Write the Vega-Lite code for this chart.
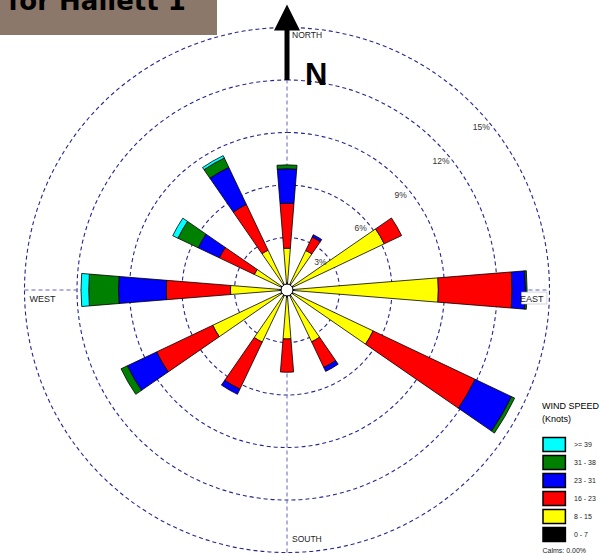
{
  "$schema": "https://vega.github.io/schema/vega-lite/v6.json",
  "width": 525,
  "height": 525,
  "autosize": {"type": "none"},
  "padding": {"left": 24.5, "top": 27.5, "right": 49.5, "bottom": 1.5},
  "background": "white",
  "config": {"view": {"stroke": null}, "font": "Liberation Sans"},
  "datasets": {
    "rose": [
      {"dir": 0, "kt": 0, "speed": "0 - 7", "pct": 0.4},
      {"dir": 0, "kt": 8, "speed": "8 - 15", "pct": 1.99},
      {"dir": 0, "kt": 16, "speed": "16 - 23", "pct": 2.57},
      {"dir": 0, "kt": 23, "speed": "23 - 31", "pct": 1.97},
      {"dir": 0, "kt": 31, "speed": "31 - 38", "pct": 0.22},
      {"dir": 30, "kt": 0, "speed": "0 - 7", "pct": 0.4},
      {"dir": 30, "kt": 8, "speed": "8 - 15", "pct": 2.1},
      {"dir": 30, "kt": 16, "speed": "16 - 23", "pct": 0.85},
      {"dir": 30, "kt": 23, "speed": "23 - 31", "pct": 0.15},
      {"dir": 60, "kt": 0, "speed": "0 - 7", "pct": 0.4},
      {"dir": 60, "kt": 8, "speed": "8 - 15", "pct": 5.75},
      {"dir": 60, "kt": 16, "speed": "16 - 23", "pct": 1.1},
      {"dir": 90, "kt": 0, "speed": "0 - 7", "pct": 0.4},
      {"dir": 90, "kt": 8, "speed": "8 - 15", "pct": 8.25},
      {"dir": 90, "kt": 16, "speed": "16 - 23", "pct": 4.21},
      {"dir": 90, "kt": 23, "speed": "23 - 31", "pct": 0.77},
      {"dir": 90, "kt": 31, "speed": "31 - 38", "pct": 0.09},
      {"dir": 120, "kt": 0, "speed": "0 - 7", "pct": 0.4},
      {"dir": 120, "kt": 8, "speed": "8 - 15", "pct": 5.05},
      {"dir": 120, "kt": 16, "speed": "16 - 23", "pct": 6.45},
      {"dir": 120, "kt": 23, "speed": "23 - 31", "pct": 2.3},
      {"dir": 120, "kt": 31, "speed": "31 - 38", "pct": 0.2},
      {"dir": 150, "kt": 0, "speed": "0 - 7", "pct": 0.4},
      {"dir": 150, "kt": 8, "speed": "8 - 15", "pct": 2.88},
      {"dir": 150, "kt": 16, "speed": "16 - 23", "pct": 1.62},
      {"dir": 150, "kt": 23, "speed": "23 - 31", "pct": 0.25},
      {"dir": 180, "kt": 0, "speed": "0 - 7", "pct": 0.4},
      {"dir": 180, "kt": 8, "speed": "8 - 15", "pct": 2.4},
      {"dir": 180, "kt": 16, "speed": "16 - 23", "pct": 1.9},
      {"dir": 210, "kt": 0, "speed": "0 - 7", "pct": 0.4},
      {"dir": 210, "kt": 8, "speed": "8 - 15", "pct": 2.9},
      {"dir": 210, "kt": 16, "speed": "16 - 23", "pct": 2.97},
      {"dir": 210, "kt": 23, "speed": "23 - 31", "pct": 0.33},
      {"dir": 240, "kt": 0, "speed": "0 - 7", "pct": 0.4},
      {"dir": 240, "kt": 8, "speed": "8 - 15", "pct": 4.3},
      {"dir": 240, "kt": 16, "speed": "16 - 23", "pct": 3.55},
      {"dir": 240, "kt": 23, "speed": "23 - 31", "pct": 1.85},
      {"dir": 240, "kt": 31, "speed": "31 - 38", "pct": 0.4},
      {"dir": 270, "kt": 0, "speed": "0 - 7", "pct": 0.4},
      {"dir": 270, "kt": 8, "speed": "8 - 15", "pct": 2.83},
      {"dir": 270, "kt": 16, "speed": "16 - 23", "pct": 3.67},
      {"dir": 270, "kt": 23, "speed": "23 - 31", "pct": 2.73},
      {"dir": 270, "kt": 31, "speed": "31 - 38", "pct": 1.7},
      {"dir": 270, "kt": 39, "speed": ">= 39", "pct": 0.44},
      {"dir": 300, "kt": 0, "speed": "0 - 7", "pct": 0.4},
      {"dir": 300, "kt": 8, "speed": "8 - 15", "pct": 1.67},
      {"dir": 300, "kt": 16, "speed": "16 - 23", "pct": 2.21},
      {"dir": 300, "kt": 23, "speed": "23 - 31", "pct": 1.34},
      {"dir": 300, "kt": 31, "speed": "31 - 38", "pct": 1.28},
      {"dir": 300, "kt": 39, "speed": ">= 39", "pct": 0.33},
      {"dir": 330, "kt": 0, "speed": "0 - 7", "pct": 0.4},
      {"dir": 330, "kt": 8, "speed": "8 - 15", "pct": 2.12},
      {"dir": 330, "kt": 16, "speed": "16 - 23", "pct": 2.89},
      {"dir": 330, "kt": 23, "speed": "23 - 31", "pct": 2.35},
      {"dir": 330, "kt": 31, "speed": "31 - 38", "pct": 0.59},
      {"dir": 330, "kt": 39, "speed": ">= 39", "pct": 0.15}
    ],
    "rings": [
      {"ring": 3, "label": "3%"},
      {"ring": 6, "label": "6%"},
      {"ring": 9, "label": "9%"},
      {"ring": 12, "label": "12%"},
      {"ring": 15, "label": "15%"}
    ]
  },
  "layer": [
    {
      "data": {"name": "rings"},
      "mark": {"type": "arc", "filled": false, "stroke": "#262693", "strokeWidth": 1.1, "strokeDash": [4, 3], "theta": 0, "theta2": 6.2832},
      "encoding": {
        "radius": {"field": "ring", "type": "quantitative", "stack": null, "scale": {"type": "linear", "domain": [0, 15], "range": [0, 262.5], "zero": true}}
      }
    },
    {
      "data": {"values": [{"axis": "NS"}]},
      "mark": {"type": "rule", "color": "#6464b9", "strokeWidth": 1, "strokeDash": [4, 3]},
      "encoding": {
        "x": {"datum": 0, "type": "quantitative", "scale": {"domain": [-15, 15], "nice": false, "zero": false}, "axis": null},
        "y": {"datum": -15, "type": "quantitative", "scale": {"domain": [-15, 15], "nice": false, "zero": false}, "axis": null},
        "y2": {"datum": 15}
      }
    },
    {
      "data": {"values": [{"axis": "EW"}]},
      "mark": {"type": "rule", "color": "#6464b9", "strokeWidth": 1, "strokeDash": [4, 3]},
      "encoding": {
        "x": {"datum": -15, "type": "quantitative", "scale": {"domain": [-15, 15], "nice": false, "zero": false}, "axis": null},
        "x2": {"datum": 15},
        "y": {"datum": 0, "type": "quantitative", "scale": {"domain": [-15, 15], "nice": false, "zero": false}, "axis": null}
      }
    },
    {
      "data": {"name": "rose"},
      "transform": [
        {"stack": "pct", "groupby": ["dir"], "sort": [{"field": "kt", "order": "ascending"}], "as": ["r0", "r1"]}
      ],
      "mark": {"type": "arc", "stroke": "#000000", "strokeWidth": 0.8, "thetaOffset": -0.0803, "theta2Offset": 0.0803},
      "encoding": {
        "theta": {"field": "dir", "type": "quantitative", "scale": {"domain": [0, 360], "range": [0, 6.2832]}, "stack": null},
        "theta2": {"field": "dir"},
        "radius": {"field": "r1", "type": "quantitative", "stack": null, "scale": {"type": "linear", "domain": [0, 15], "range": [0, 262.5], "zero": true}},
        "radius2": {"field": "r0"},
        "color": {
          "field": "speed",
          "type": "nominal",
          "scale": {
            "domain": [">= 39", "31 - 38", "23 - 31", "16 - 23", "8 - 15", "0 - 7"],
            "range": ["#00ffff", "#008000", "#0000ff", "#ff0000", "#ffff00", "#000000"]
          },
          "legend": {
            "orient": "none",
            "legendX": 517.5,
            "legendY": 374,
            "title": ["WIND SPEED", "(Knots)"],
            "titleFont": "Liberation Sans",
            "titleFontSize": 9,
            "titleFontWeight": "normal",
            "titleColor": "#000000",
            "titleLineHeight": 13,
            "titlePadding": 13,
            "symbolType": "M-1,-1H2.2V1H-1Z",
            "symbolSize": 196,
            "symbolStrokeColor": "#000000",
            "symbolStrokeWidth": 1.5,
            "symbolOpacity": 1,
            "labelFont": "Liberation Sans",
            "labelFontSize": 7,
            "labelColor": "#222222",
            "labelOffset": 16,
            "rowPadding": -2.6
          }
        }
      }
    },
    {
      "data": {"name": "rings"},
      "mark": {"type": "text", "fontSize": 8.5, "color": "#333333", "radiusOffset": -9},
      "encoding": {
        "theta": {"datum": 50, "type": "quantitative"},
        "radius": {"field": "ring", "type": "quantitative", "stack": null, "scale": {"type": "linear", "domain": [0, 15], "range": [0, 262.5], "zero": true}},
        "text": {"field": "label"}
      }
    },
    {
      "data": {"values": [{"calm": 0}]},
      "mark": {"type": "arc", "fill": "#ffffff", "stroke": "#000000", "strokeWidth": 1, "theta": 0, "theta2": 6.2832},
      "encoding": {
        "radius": {"datum": 0.34, "type": "quantitative", "stack": null, "scale": {"type": "linear", "domain": [0, 15], "range": [0, 262.5], "zero": true}}
      }
    },
    {
      "data": {"values": [{"arrow": "shaft"}]},
      "mark": {"type": "rule", "color": "#000000", "strokeWidth": 5},
      "encoding": {
        "x": {"datum": 0, "type": "quantitative", "scale": {"domain": [-15, 15], "nice": false, "zero": false}, "axis": null},
        "y": {"datum": 12.0, "type": "quantitative", "scale": {"domain": [-15, 15], "nice": false, "zero": false}, "axis": null},
        "y2": {"datum": 15.0}
      }
    },
    {
      "data": {"values": [{"arrow": "head"}]},
      "mark": {"type": "point", "shape": "M0,-1L-1,1L1,1Z", "size": 676, "filled": true, "color": "#000000", "opacity": 1},
      "encoding": {
        "x": {"datum": 0, "type": "quantitative", "scale": {"domain": [-15, 15], "nice": false, "zero": false}, "axis": null},
        "y": {"datum": 15.57, "type": "quantitative", "scale": {"domain": [-15, 15], "nice": false, "zero": false}, "axis": null}
      }
    },
    {
      "data": {"values": [{"text": "N"}]},
      "mark": {"type": "text", "font": "Liberation Sans", "fontWeight": "bold", "fontSize": 31, "align": "left", "baseline": "alphabetic", "color": "#000000"},
      "encoding": {
        "x": {"datum": 1.03, "type": "quantitative", "scale": {"domain": [-15, 15], "nice": false, "zero": false}, "axis": null},
        "y": {"datum": 11.71, "type": "quantitative", "scale": {"domain": [-15, 15], "nice": false, "zero": false}, "axis": null},
        "text": {"field": "text"}
      }
    },
    {
      "data": {"values": [{"text": "NORTH"}]},
      "mark": {"type": "text", "fontSize": 8.5, "align": "left", "baseline": "top", "dx": 5, "dy": 3, "color": "#222222"},
      "encoding": {
        "x": {"datum": 0, "type": "quantitative", "scale": {"domain": [-15, 15], "nice": false, "zero": false}, "axis": null},
        "y": {"datum": 15, "type": "quantitative", "scale": {"domain": [-15, 15], "nice": false, "zero": false}, "axis": null},
        "text": {"field": "text"}
      }
    },
    {
      "data": {"values": [{"text": "SOUTH"}]},
      "mark": {"type": "text", "fontSize": 8.5, "align": "left", "baseline": "alphabetic", "dx": 5, "dy": -11, "color": "#222222"},
      "encoding": {
        "x": {"datum": 0, "type": "quantitative", "scale": {"domain": [-15, 15], "nice": false, "zero": false}, "axis": null},
        "y": {"datum": -15, "type": "quantitative", "scale": {"domain": [-15, 15], "nice": false, "zero": false}, "axis": null},
        "text": {"field": "text"}
      }
    },
    {
      "data": {"values": [{"text": "WEST"}]},
      "mark": {"type": "text", "fontSize": 9, "align": "left", "baseline": "alphabetic", "dx": 5, "dy": 12, "color": "#222222"},
      "encoding": {
        "x": {"datum": -15, "type": "quantitative", "scale": {"domain": [-15, 15], "nice": false, "zero": false}, "axis": null},
        "y": {"datum": 0, "type": "quantitative", "scale": {"domain": [-15, 15], "nice": false, "zero": false}, "axis": null},
        "text": {"field": "text"}
      }
    },
    {
      "data": {"values": [{"box": "east"}]},
      "mark": {"type": "rect", "color": "#ffffff", "stroke": "#bbbbbb", "strokeWidth": 0.6},
      "encoding": {
        "x": {"datum": 13.4, "type": "quantitative", "scale": {"domain": [-15, 15], "nice": false, "zero": false}, "axis": null},
        "x2": {"datum": 14.85},
        "y": {"datum": -0.12, "type": "quantitative", "scale": {"domain": [-15, 15], "nice": false, "zero": false}, "axis": null},
        "y2": {"datum": -0.8}
      }
    },
    {
      "data": {"values": [{"text": "EAST"}]},
      "mark": {"type": "text", "fontSize": 9, "align": "right", "baseline": "alphabetic", "dx": -6, "dy": 12, "color": "#222222"},
      "encoding": {
        "x": {"datum": 15, "type": "quantitative", "scale": {"domain": [-15, 15], "nice": false, "zero": false}, "axis": null},
        "y": {"datum": 0, "type": "quantitative", "scale": {"domain": [-15, 15], "nice": false, "zero": false}, "axis": null},
        "text": {"field": "text"}
      }
    },
    {
      "data": {"values": [{"text": "Calms: 0.00%"}]},
      "mark": {"type": "text", "fontSize": 7, "align": "left", "baseline": "alphabetic", "color": "#222222"},
      "encoding": {
        "x": {"datum": 14.6, "type": "quantitative", "scale": {"domain": [-15, 15], "nice": false, "zero": false}, "axis": null},
        "y": {"datum": -15.0, "type": "quantitative", "scale": {"domain": [-15, 15], "nice": false, "zero": false}, "axis": null},
        "text": {"field": "text"}
      }
    },
    {
      "data": {"values": [{"box": "title"}]},
      "mark": {"type": "rect", "color": "#8b786a"},
      "encoding": {
        "x": {"datum": -16.5, "type": "quantitative", "scale": {"domain": [-15, 15], "nice": false, "zero": false}, "axis": null},
        "x2": {"datum": -4.0},
        "y": {"datum": 14.57, "type": "quantitative", "scale": {"domain": [-15, 15], "nice": false, "zero": false}, "axis": null},
        "y2": {"datum": 17.0}
      }
    },
    {
      "data": {"values": [{"text": "for Hallett 1"}]},
      "mark": {"type": "text", "font": "DejaVu Sans", "fontWeight": "bold", "fontSize": 26, "align": "left", "baseline": "alphabetic", "color": "#000000"},
      "encoding": {
        "x": {"datum": -15.94, "type": "quantitative", "scale": {"domain": [-15, 15], "nice": false, "zero": false}, "axis": null},
        "y": {"datum": 16.0, "type": "quantitative", "scale": {"domain": [-15, 15], "nice": false, "zero": false}, "axis": null},
        "text": {"field": "text"}
      }
    }
  ]
}
